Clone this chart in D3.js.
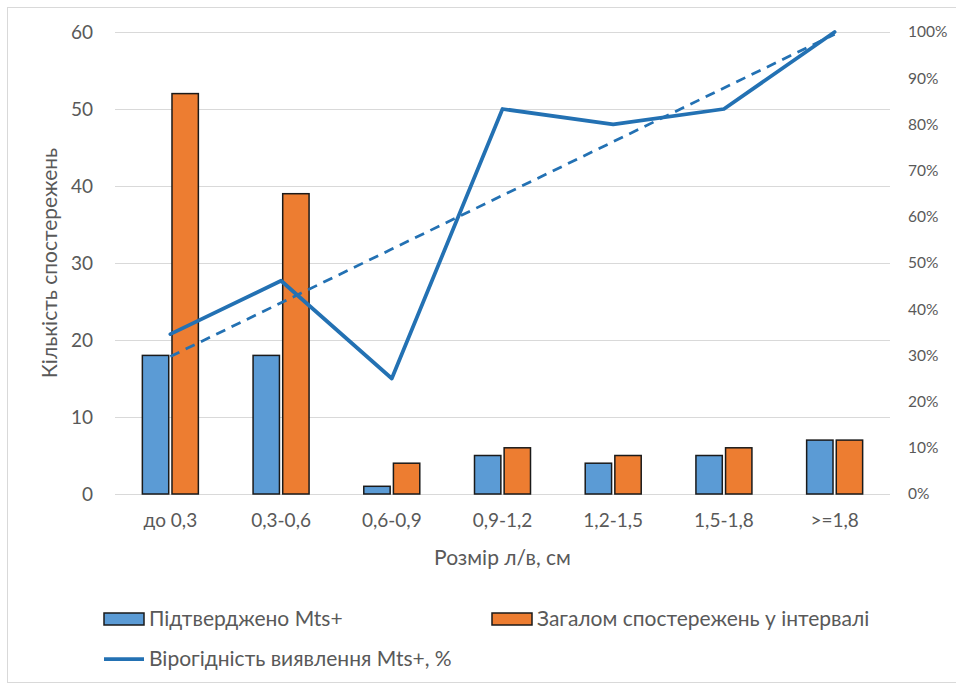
<!DOCTYPE html>
<html>
<head>
<meta charset="utf-8">
<script src="https://cdn.jsdelivr.net/npm/d3@7"></script>
<style>
  html, body { margin: 0; padding: 0; background: #fff; }
  svg text { font-family: Lato, "Open Sans", sans-serif; fill: #595959; }
</style>
</head>
<body>
<svg id="chart" width="956" height="686"></svg>
<script>
// Size intervals of lymph nodes
const categories = ["до 0,3", "0,3-0,6", "0,6-0,9", "0,9-1,2", "1,2-1,5", "1,5-1,8", ">=1,8"];
// Confirmed Mts+ cases per interval
const confirmed = [18, 18, 1, 5, 4, 5, 7];
// Total observations per interval
const totals = [52, 39, 4, 6, 5, 6, 7];
// Tick values
const leftTicks = [0, 10, 20, 30, 40, 50, 60];
const rightTicks = [0, 0.1, 0.2, 0.3, 0.4, 0.5, 0.6, 0.7, 0.8, 0.9, 1.0];

const seriesNames = ["Підтверджено Mts+", "Загалом спостережень у інтервалі", "Вірогідність виявлення Mts+, %"];

// Detection probability = confirmed / total
const probability = confirmed.map((c, i) => c / totals[i]);

const svg = d3.select("#chart");
const plot = { left: 115, right: 890, top: 32, bottom: 494 };

// Outer chart frame
svg.append("rect")
  .attr("x", 7.5).attr("y", 7.5)
  .attr("width", 1000).attr("height", 675)
  .attr("fill", "none").attr("stroke", "#d9d9d9").attr("stroke-width", 1);

const x = d3.scaleBand().domain(categories).range([plot.left, plot.right]);
const yLeft = d3.scaleLinear().domain([0, 60]).range([plot.bottom, plot.top]);
const yRight = d3.scaleLinear().domain([0, 1]).range([plot.bottom, plot.top]);

// Gridlines
svg.append("g").selectAll("line")
  .data(leftTicks)
  .join("line")
  .attr("x1", plot.left).attr("x2", plot.right)
  .attr("y1", d => Math.round(yLeft(d)) + 0.5)
  .attr("y2", d => Math.round(yLeft(d)) + 0.5)
  .attr("stroke", "#d9d9d9").attr("stroke-width", 1);

// Left axis
const leftAxis = svg.append("g")
  .attr("transform", `translate(${plot.left},0)`)
  .call(d3.axisLeft(yLeft).tickValues(leftTicks).tickSize(0).tickPadding(22));
leftAxis.select(".domain").remove();
leftAxis.selectAll("text").style("font-size", "19px").style("font-family", "Lato, sans-serif").attr("fill", "#595959");

// Right axis
const rightAxis = svg.append("g")
  .attr("transform", `translate(${plot.right},0)`)
  .call(d3.axisRight(yRight).tickValues(rightTicks).tickSize(0).tickPadding(18).tickFormat(d3.format(".0%")));
rightAxis.select(".domain").remove();
rightAxis.selectAll("text").style("font-size", "15.5px").style("font-family", "Lato, sans-serif").attr("fill", "#595959");

// Category axis
const bottomAxis = svg.append("g")
  .attr("transform", `translate(0,${plot.bottom})`)
  .call(d3.axisBottom(x).tickSize(0).tickPadding(20));
bottomAxis.select(".domain").remove();
bottomAxis.selectAll("text").style("font-size", "19px").style("font-family", "Lato, sans-serif").attr("fill", "#595959");

// Bars
const inner = d3.scaleBand().domain([0, 1]).range([0, 56]).paddingInner(0.11);
const colors = ["#5B9BD5", "#ED7D31"];
const barData = categories.flatMap((c, i) => [
  { c, k: 0, v: confirmed[i] },
  { c, k: 1, v: totals[i] }
]);
svg.append("g").selectAll("rect")
  .data(barData)
  .join("rect")
  .attr("x", d => x(d.c) + x.bandwidth() / 2 - 28 + inner(d.k))
  .attr("y", d => yLeft(d.v))
  .attr("width", inner.bandwidth())
  .attr("height", d => yLeft(0) - yLeft(d.v))
  .attr("fill", d => colors[d.k])
  .attr("stroke", "#1a1a1a").attr("stroke-width", 1.5);

// Linear trend of detection probability
const xs = categories.map((_, i) => i + 1);
const mx = d3.mean(xs), my = d3.mean(probability);
const slope = d3.sum(xs, (v, i) => (v - mx) * (probability[i] - my)) / d3.sum(xs, v => (v - mx) ** 2);
const intercept = my - slope * mx;
const trend = xs.map(v => intercept + slope * v);

const cx = c => x(c) + x.bandwidth() / 2;
const lineGen = d3.line().x((d, i) => cx(categories[i])).y(d => yRight(d));

svg.append("path")
  .datum(trend)
  .attr("d", lineGen)
  .attr("fill", "none")
  .attr("stroke", "#2371B3").attr("stroke-width", 2.75)
  .attr("stroke-dasharray", "10,7");

svg.append("path")
  .datum(probability)
  .attr("d", lineGen)
  .attr("fill", "none")
  .attr("stroke", "#2371B3").attr("stroke-width", 3.75)
  .attr("stroke-linejoin", "round").attr("stroke-linecap", "round");

// Axis titles
svg.append("text")
  .attr("transform", `translate(50,${(plot.top + plot.bottom) / 2}) rotate(-90)`)
  .attr("text-anchor", "middle")
  .attr("dy", "0.35em")
  .style("font-size", "21px")
  .text("Кількість спостережень");

svg.append("text")
  .attr("x", (plot.left + plot.right) / 2).attr("y", 558)
  .attr("text-anchor", "middle")
  .attr("dy", "0.35em")
  .style("font-size", "21px")
  .text("Розмір л/в, см");

// Legend
const legend = svg.append("g");
const items = [
  { type: "bar", color: colors[0], label: seriesNames[0], x: 104, y: 619 },
  { type: "bar", color: colors[1], label: seriesNames[1], x: 492, y: 619 },
  { type: "line", color: "#2371B3", label: seriesNames[2], x: 104, y: 659 }
];
items.forEach(it => {
  const g = legend.append("g").attr("transform", `translate(${it.x},${it.y})`);
  if (it.type === "bar") {
    g.append("rect").attr("x", 0).attr("y", -6).attr("width", 40).attr("height", 12)
      .attr("fill", it.color).attr("stroke", "#1a1a1a").attr("stroke-width", 1.5);
  } else {
    g.append("line").attr("x1", 0).attr("x2", 40).attr("y1", 0).attr("y2", 0)
      .attr("stroke", it.color).attr("stroke-width", 3.75);
  }
  g.append("text").attr("x", 45).attr("y", 0).attr("dy", "0.35em")
    .style("font-size", "21px").text(it.label);
});
</script>
</body>
</html>
